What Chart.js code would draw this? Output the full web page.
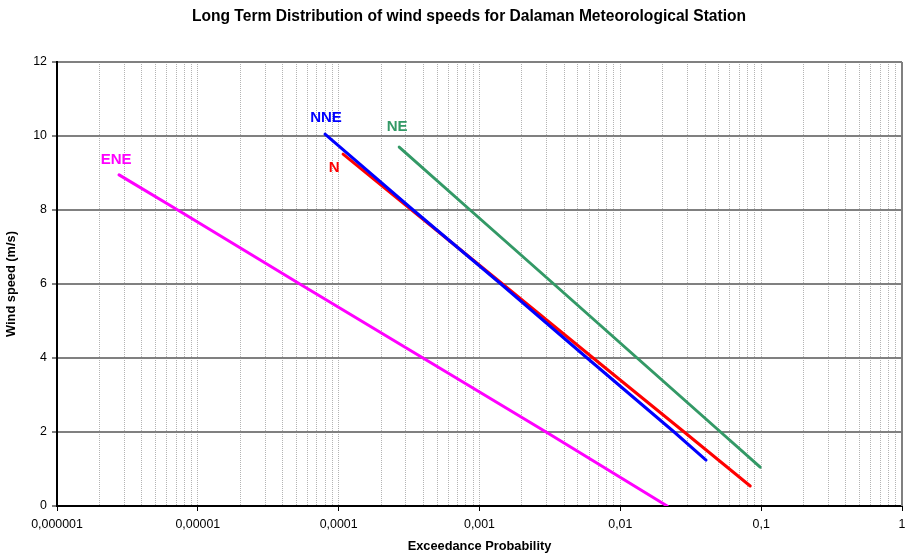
<!DOCTYPE html>
<html>
<head>
<meta charset="utf-8">
<title>Dalaman wind speeds</title>
<script src="https://cdn.jsdelivr.net/npm/chart.js@4/dist/chart.umd.min.js"></script>
<style>
body { margin:0; background:#fff; }
canvas { display:block; }
</style>
</head>
<body>
<canvas id="windChart" width="905" height="558"></canvas>
<script>

// exceedance probability vs wind speed, one line per direction sector
const directions = ["ENE", "NNE", "N", "NE"]
const colors = ["#ff00ff", "#0000ff", "#ff0000", "#339966"]

const eneSpeed = [8.95, 8, 6, 4, 2, 0]
const eneProb = [2.76e-6, 7.2e-6, 5.3e-5, 3.97e-4, 2.97e-3, 0.0215]

const nneSpeed = [10.05, 8, 6, 4, 2, 1.24]
const nneProb = [8.0e-5, 3.38e-4, 1.42e-3, 5.81e-3, 0.0241, 0.0406]

const nSpeed = [9.51, 8, 6, 4, 2, 0.54]
const nProb = [1.075e-4, 3.30e-4, 1.457e-3, 6.41e-3, 0.0284, 0.0836]

const neSpeed = [9.70, 8, 6, 4, 2, 1.05]
const neProb = [2.69e-4, 8.58e-4, 3.37e-3, 0.01316, 0.0515, 0.0984]

const xTickValues = [1e-6, 1e-5, 1e-4, 1e-3, 1e-2, 1e-1, 1]
const xTickLabels = ["0,000001", "0,00001", "0,0001", "0,001", "0,01", "0,1", "1"]
const yTicks = [0, 2, 4, 6, 8, 10, 12]

const speeds = [eneSpeed, nneSpeed, nSpeed, neSpeed]
const probs = [eneProb, nneProb, nProb, neProb]

// where each sector name sits relative to the top end of its line
const labelOffsets = [[-3, -15], [1, -16], [-9, 14], [-2, -20]]

const FONT = "Arial, 'Liberation Sans', sans-serif"

const datasets = directions.map((name, i) => ({
  label: name,
  data: speeds[i].map((v, j) => ({ x: probs[i][j], y: v })),
  borderColor: colors[i],
  borderWidth: 3,
  borderCapStyle: "round",
  pointRadius: 0,
  fill: false,
  tension: 0,
  // NNE sits on top of N where they overlap
  order: name === "NNE" ? 0 : i + 1
}))

const chartTitle = {
  id: "chartTitle",
  afterDraw(chart) {
    const ctx = chart.ctx
    ctx.save()
    ctx.font = "bold 15.6px " + FONT
    ctx.fillStyle = "#000"
    ctx.textAlign = "center"
    ctx.textBaseline = "middle"
    ctx.fillText("Long Term Distribution of wind speeds for Dalaman Meteorological Station", 469, 17)
    ctx.restore()
  }
}

const sectorNames = {
  id: "sectorNames",
  afterDatasetsDraw(chart) {
    const ctx = chart.ctx
    const xs = chart.scales.x
    const ys = chart.scales.y
    ctx.save()
    ctx.font = "bold 15px " + FONT
    ctx.textAlign = "center"
    ctx.textBaseline = "middle"
    directions.forEach((name, i) => {
      const px = xs.getPixelForValue(probs[i][0]) + labelOffsets[i][0]
      const py = ys.getPixelForValue(speeds[i][0]) + labelOffsets[i][1]
      ctx.fillStyle = colors[i]
      ctx.fillText(name, px, py)
    })
    ctx.restore()
  }
}

// gray frame line on the right edge of the plot
const rightEdge = {
  id: "rightEdge",
  beforeDatasetsDraw(chart) {
    const ctx = chart.ctx
    const a = chart.chartArea
    ctx.save()
    ctx.strokeStyle = "#808080"
    ctx.lineWidth = 2
    ctx.beginPath()
    ctx.moveTo(a.right, a.top)
    ctx.lineTo(a.right, a.bottom)
    ctx.stroke()
    ctx.restore()
  }
}

new Chart(document.getElementById("windChart"), {
  type: "line",
  data: { datasets: datasets },
  plugins: [chartTitle, sectorNames, rightEdge],
  options: {
    responsive: false,
    animation: false,
    devicePixelRatio: 1,
    layout: { padding: { top: 62, right: 3, left: 0, bottom: 0 } },
    plugins: {
      legend: { display: false },
      title: { display: false },
      tooltip: { enabled: false }
    },
    scales: {
      x: {
        type: "logarithmic",
        min: 1e-6,
        max: 1,
        afterBuildTicks(scale) {
          const ticks = []
          for (let d = -6; d <= 0; d++) {
            ticks.push({ value: Math.pow(10, d), major: true })
            if (d < 0) {
              for (let k = 2; k <= 9; k++) ticks.push({ value: k * Math.pow(10, d), major: false })
            }
          }
          scale.ticks = ticks
        },
        afterFit(scale) {
          scale.height = 52
          scale.paddingLeft = 0
          scale.paddingRight = 0
        },
        ticks: {
          autoSkip: false,
          maxRotation: 0,
          minRotation: 0,
          padding: 6,
          color: "#000",
          font: { family: FONT, size: 12.4 },
          callback(value) {
            const idx = xTickValues.findIndex(v => Math.abs(v - value) / v < 1e-6)
            return idx >= 0 ? xTickLabels[idx] : ""
          }
        },
        grid: {
          color: "#b4b4b4",
          lineWidth: 1,
          tickLength: 5,
          tickWidth: 1,
          tickColor: ctx => (ctx.tick && ctx.tick.major) ? "#000" : "rgba(0,0,0,0)"
        },
        border: { display: true, color: "#000", width: 2, dash: [1, 1] },
        title: {
          display: true,
          text: "Exceedance Probability",
          color: "#000",
          font: { family: FONT, size: 12.8, weight: "bold" },
          padding: { top: 0, bottom: 4 }
        }
      },
      y: {
        type: "linear",
        min: 0,
        max: 12,
        afterBuildTicks(scale) {
          scale.ticks = yTicks.map(v => ({ value: v }))
        },
        afterFit(scale) {
          scale.width = 57
        },
        ticks: {
          padding: 5,
          color: "#000",
          font: { family: FONT, size: 12.4 }
        },
        grid: {
          color: "#808080",
          lineWidth: 2,
          tickLength: 5,
          tickWidth: 1,
          tickColor: "#000"
        },
        border: { display: true, color: "#000", width: 2 },
        title: {
          display: true,
          text: "Wind speed (m/s)",
          color: "#000",
          font: { family: FONT, size: 12.8, weight: "bold" },
          padding: { top: 3.5, bottom: 0 }
        }
      }
    }
  }
})

</script>
</body>
</html>
